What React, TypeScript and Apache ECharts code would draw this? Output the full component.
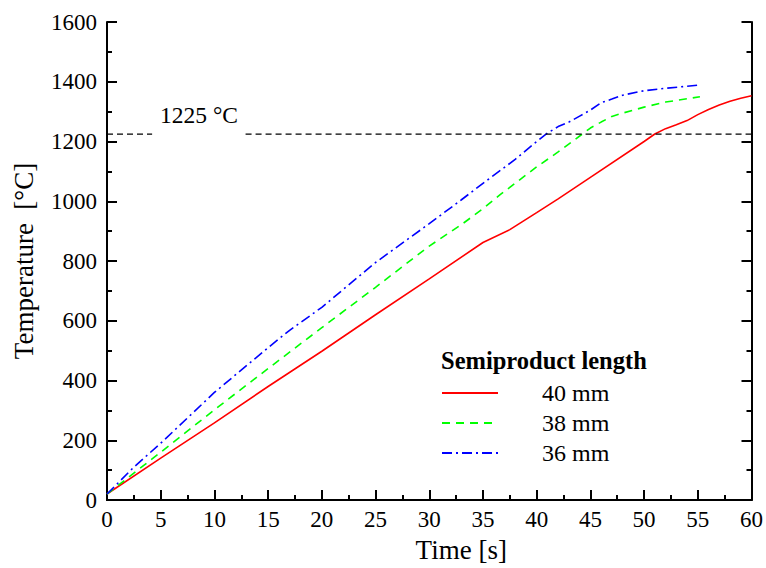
import React, { useEffect, useRef } from "react";
import * as echarts from "echarts";

const timeRed = [0, 5, 10, 15, 20, 25, 30, 35, 37.5, 40, 42, 45, 50, 51, 52, 53, 54, 55, 56, 57, 58, 59, 60];
const tempRed = [20, 140, 258, 380, 498, 620, 740, 862, 905, 962, 1008, 1080, 1200, 1225, 1243, 1256, 1270, 1290, 1307, 1322, 1335, 1345, 1353];

const timeGreen = [0, 2.5, 5, 10, 15, 20, 25, 30, 33, 35, 36.6, 40, 42, 44.25, 45, 46, 47, 48, 50, 52, 54, 55.2];
const tempGreen = [20, 90, 160, 302, 440, 577, 712, 850, 922, 975, 1022, 1115, 1165, 1225, 1245, 1265, 1284, 1295, 1315, 1332, 1343, 1350];

const timeBlue = [0, 2.5, 5, 10, 15, 17, 20, 25, 30, 33, 35, 38, 40, 41, 42, 43, 44, 45, 46, 47, 48, 50, 52, 54, 55.2];
const tempBlue = [20, 110, 190, 360, 510, 568, 645, 795, 925, 1005, 1060, 1140, 1200, 1228, 1250, 1265, 1285, 1305, 1330, 1342, 1355, 1370, 1378, 1385, 1389];

const seriesNames = ["40 mm", "38 mm", "36 mm"];
const thresholdValue = 1225;
const thresholdSegments = [[0, 4.2], [12.9, 60]];
const thresholdLabel = "1225 °C";
const legendTitle = "Semiproduct length";

const zip = (xs: number[], ys: number[]) => xs.map((x, i) => [x, ys[i]]);

export default function App() {
  const ref = useRef<HTMLDivElement>(null);
  useEffect(() => {
    document.body.style.margin = "0";
    const chart = echarts.init(ref.current!, null, { renderer: "svg" });
    const font = "'Liberation Serif', 'Times New Roman', 'DejaVu Serif', serif";
    const axisCommon = {
      axisLine: { show: true, onZero: false, lineStyle: { color: "#000", width: 2 } },
      axisTick: { show: true, inside: true, length: 10, lineStyle: { color: "#000", width: 2 } },
      minorTick: { show: true, splitNumber: 2, length: 5, lineStyle: { color: "#000", width: 2 } },
      splitLine: { show: false },
    };
    const plain = (v: number) => String(v);
    chart.setOption({
      animation: false,
      backgroundColor: "#fff",
      grid: { left: 107, top: 22, right: 14, bottom: 67 },
      xAxis: [
        {
          type: "value",
          min: 0,
          max: 60,
          interval: 5,
          name: "Time [s]",
          nameLocation: "middle",
          nameGap: 36,
          nameTextStyle: { fontFamily: font, fontSize: 27, color: "#000", padding: [0, 0, 0, 64] },
          axisLabel: { fontFamily: font, fontSize: 23, color: "#000", margin: 8, formatter: plain },
          ...axisCommon,
        },
        {
          type: "value",
          position: "top",
          min: 0,
          max: 60,
          interval: 5,
          axisLine: { show: true, lineStyle: { color: "#000", width: 2 } },
          axisTick: { show: false },
          axisLabel: { show: false },
          splitLine: { show: false },
        },
      ],
      yAxis: [
        {
          type: "value",
          min: 0,
          max: 1600,
          interval: 200,
          name: "Temperature  [°C]",
          nameLocation: "middle",
          nameGap: 70,
          nameTextStyle: { fontFamily: font, fontSize: 27, color: "#000" },
          axisLabel: { fontFamily: font, fontSize: 23, color: "#000", margin: 10, formatter: plain },
          ...axisCommon,
        },
        {
          type: "value",
          position: "right",
          min: 0,
          max: 1600,
          interval: 200,
          axisLabel: { show: false },
          ...axisCommon,
        },
      ],
      legend: {
        orient: "vertical",
        left: 441,
        top: 381,
        padding: 0,
        itemWidth: 56,
        itemHeight: 14,
        itemGap: 6,
        data: seriesNames,
        itemStyle: { opacity: 0 },
        textStyle: { fontFamily: font, fontSize: 24, color: "#000", padding: [0, 0, 0, 39] },
      },
      graphic: [
        {
          type: "text",
          left: 441,
          top: 348,
          style: { text: legendTitle, fontFamily: font, fontSize: 24.5, fontWeight: "bold", fill: "#000" },
        },
        {
          type: "text",
          left: 160,
          top: 103,
          style: { text: thresholdLabel, fontFamily: font, fontSize: 23.5, fill: "#000" },
        },
      ],
      series: [
        {
          name: seriesNames[0],
          type: "line",
          data: zip(timeRed, tempRed),
          showSymbol: false,
          symbol: "none",
          lineStyle: { color: "#ff0000", width: 1.6, type: "solid" },
          itemStyle: { color: "#ff0000" },
        },
        {
          name: seriesNames[1],
          type: "line",
          data: zip(timeGreen, tempGreen),
          showSymbol: false,
          symbol: "none",
          lineStyle: { color: "#00ff00", width: 1.6, type: [8, 6] },
          itemStyle: { color: "#00ff00" },
        },
        {
          name: seriesNames[2],
          type: "line",
          data: zip(timeBlue, tempBlue),
          showSymbol: false,
          symbol: "none",
          lineStyle: { color: "#0000ff", width: 1.6, type: [10, 4, 2, 4] },
          itemStyle: { color: "#0000ff" },
        },
        ...thresholdSegments.map((seg) => ({
          type: "line",
          data: seg.map((x) => [x, thresholdValue]),
          showSymbol: false,
          symbol: "none",
          silent: true,
          lineStyle: { color: "#000", width: 1.2, type: [6, 4] },
        })),
      ],
    });
    return () => chart.dispose();
  }, []);
  return <div ref={ref} style={{ width: 766, height: 568 }} />;
}
